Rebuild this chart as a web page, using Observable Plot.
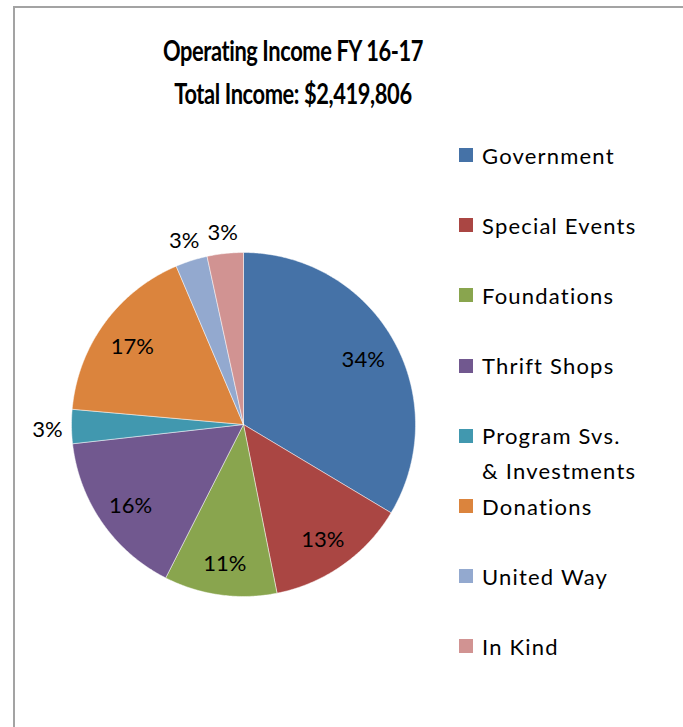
<!DOCTYPE html>
<html>
<head>
<meta charset="utf-8">
<script src="https://cdn.jsdelivr.net/npm/d3@7"></script>
<script src="https://cdn.jsdelivr.net/npm/@observablehq/plot@0.6"></script>
<style>
  html, body { margin: 0; padding: 0; background: #fff; }
  #wrap { position: relative; width: 683px; height: 727px; overflow: hidden; background: #fff; font-family: Lato, "Open Sans", sans-serif; }
  #frame { position: absolute; left: 13px; top: 6px; width: 800px; height: 800px; border-top: 2px solid #a3a3a3; border-left: 2px solid #a3a3a3; }
  #title { position: absolute; left: 93px; width: 400px; top: 29px; text-align: center; font-weight: 700; font-size: 28px; line-height: 43px; letter-spacing: -0.5px; color: #000; transform: scaleX(0.78); transform-origin: 200px 0; }
  #chart { position: absolute; left: 0; top: 0; }
  #legend { position: absolute; left: 459px; top: 0; }
  .item { position: absolute; left: 0; white-space: nowrap; font-size: 22px; line-height: 35px; color: #000; letter-spacing: 1.2px; }
  .sw { position: absolute; left: 0; top: 10.5px; width: 14px; height: 14px; }
  .txt { position: absolute; left: 23px; top: 0; }
</style>
</head>
<body>
<div id="wrap">
  <div id="frame"></div>
  <div id="chart"></div>
  <div id="title"></div>
  <div id="legend"></div>
</div>
<script>
// ---- data ----
const titleLines = ["Operating Income FY 16-17", "Total Income: $2,419,806"];
const categories = ["Government", "Special Events", "Foundations", "Thrift Shops", "Program Svs. & Investments", "Donations", "United Way", "In Kind"];
const legendLabels = [["Government"], ["Special Events"], ["Foundations"], ["Thrift Shops"], ["Program Svs.", "& Investments"], ["Donations"], ["United Way"], ["In Kind"]];
const shares = [33.6, 13.3, 10.6, 15.75, 3.2, 17.2, 3.0, 3.4];
const colors = ["#4572A7", "#AA4643", "#89A54E", "#71588F", "#4198AF", "#DB843D", "#93A9CF", "#D19392"];
const outsideLabel = [false, false, false, false, true, false, true, true];

// ---- title ----
document.getElementById("title").innerHTML = titleLines.map(t => `<div>${t}</div>`).join("");

// ---- pie geometry from data ----
const pie = d3.pie().sort(null).value(d => d)(shares);
const slicePoints = [];
const labels = [];
pie.forEach((a, i) => {
  const name = categories[i];
  slicePoints.push({name, x: 0, y: 0});
  const n = Math.max(4, Math.ceil((a.endAngle - a.startAngle) / 0.01));
  for (let k = 0; k <= n; k++) {
    const t = a.startAngle + (a.endAngle - a.startAngle) * k / n;
    slicePoints.push({name, x: Math.sin(t), y: Math.cos(t)});
  }
  slicePoints.push({name, x: 0, y: 0});
  const mid = (a.startAngle + a.endAngle) / 2;
  const r = outsideLabel[i] ? 1.14 : 0.8;
  labels.push({name, x: r * Math.sin(mid), y: r * Math.cos(mid), text: Math.round(shares[i]) + "%"});
});

const chart = Plot.plot({
  width: 683,
  height: 727,
  marginLeft: 71,
  marginRight: 268,
  marginTop: 252,
  marginBottom: 131,
  x: {domain: [-1, 1], axis: null},
  y: {domain: [-1, 1], axis: null},
  color: {domain: categories, range: colors},
  style: {background: "transparent", overflow: "visible"},
  marks: [
    Plot.line(slicePoints, {x: "x", y: "y", z: "name", fill: "name", stroke: "#ffffff", strokeWidth: 0.6, strokeOpacity: 0.8, curve: "linear"}),
    Plot.text(labels, {x: "x", y: "y", text: "text", dy: 3, fontSize: 22, fill: "#000", fontFamily: "Lato, 'Open Sans', sans-serif", textAnchor: "middle", lineAnchor: "middle", style: "letter-spacing:1px"})
  ]
});
document.getElementById("chart").appendChild(chart);

// ---- legend ----
const legend = document.getElementById("legend");
categories.forEach((c, i) => {
  const item = document.createElement("div");
  item.className = "item";
  item.style.top = (155 + 70.2 * i - 17.5) + "px";
  item.innerHTML = `<div class="sw" style="background:${colors[i]}"></div><div class="txt">${legendLabels[i].join("<br>")}</div>`;
  legend.appendChild(item);
});
</script>
</body>
</html>
